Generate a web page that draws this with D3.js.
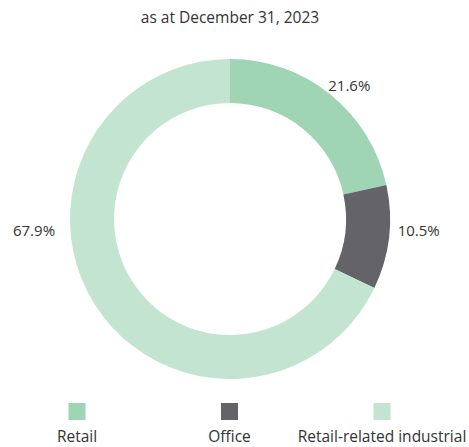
<!DOCTYPE html>
<html>
<head>
<meta charset="utf-8">
<script src="https://cdn.jsdelivr.net/npm/d3@7"></script>
<style>
  html, body { margin: 0; padding: 0; background: #fff; }
  svg { display: block; font-family: "Open Sans", "Lato", sans-serif; }
</style>
</head>
<body>
<svg id="chart" width="469" height="447"></svg>
<script>
// Portfolio breakdown by asset type
const categories = ["Retail", "Office", "Retail-related industrial"];
const shares = [21.6, 10.5, 67.9];
const colors = ["#9fd4b5", "#646468", "#c2e4d0"];
const title = "as at December 31, 2023";

const svg = d3.select("#chart");
const cx = 230, cy = 219, outerR = 160, innerR = 116;
const fontSize = 15.5;

svg.append("text")
  .attr("x", cx).attr("y", 23)
  .attr("text-anchor", "middle")
  .attr("font-size", fontSize)
  .attr("fill", "#333")
  .text(title);

const pie = d3.pie().sort(null).value(d => d.value);
const arc = d3.arc().innerRadius(innerR).outerRadius(outerR);
const data = categories.map((c, i) => ({ name: c, value: shares[i], color: colors[i] }));
const arcs = pie(data);

const g = svg.append("g").attr("transform", `translate(${cx},${cy})`);
g.selectAll("path")
  .data(arcs)
  .join("path")
  .attr("d", arc)
  .attr("fill", d => d.data.color);

// Percentage labels placed outside the ring
const labelArc = d3.arc().innerRadius(outerR + 30).outerRadius(outerR + 30);
const labelOffsets = [[0, 15], [0, -10]];
g.selectAll("text.pct")
  .data(arcs)
  .join("text")
  .attr("class", "pct")
  .attr("text-anchor", "middle")
  .attr("font-size", fontSize - 0.5)
  .attr("fill", "#333")
  .attr("dy", "0.35em")
  .attr("transform", (d, i) => {
    if (i === 2) return `translate(${-196},${12})`;
    const [x, y] = labelArc.centroid(d);
    return `translate(${x + labelOffsets[i][0]},${y + labelOffsets[i][1]})`;
  })
  .text(d => d.data.value.toFixed(1) + "%");

// Legend
const legendX = d3.scalePoint().domain(categories).range([77, 382]);
const leg = svg.append("g").selectAll("g")
  .data(data)
  .join("g")
  .attr("transform", d => `translate(${legendX(d.name)},0)`);
leg.append("rect")
  .attr("x", -8.5).attr("y", 403)
  .attr("width", 17).attr("height", 17)
  .attr("fill", d => d.color);
leg.append("text")
  .attr("y", 442)
  .attr("text-anchor", "middle")
  .attr("font-size", fontSize)
  .attr("fill", "#333")
  .text(d => d.name);
</script>
</body>
</html>
